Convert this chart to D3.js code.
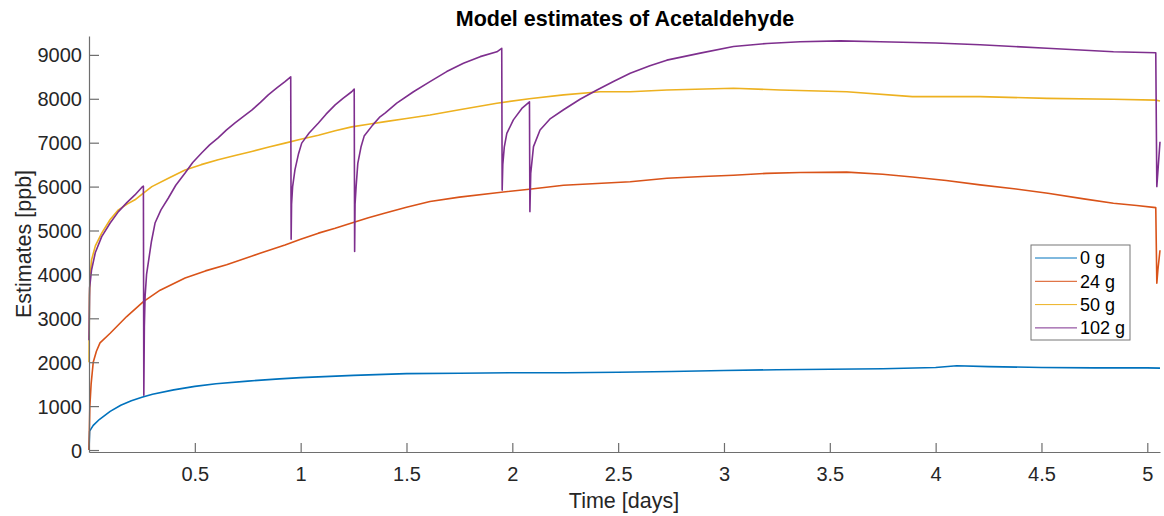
<!DOCTYPE html>
<html>
<head>
<meta charset="utf-8">
<script src="https://cdn.jsdelivr.net/npm/d3@7"></script>
<style>
  body { margin: 0; background: #fff; }
  text { font-family: "Liberation Sans", Arial, sans-serif; }
</style>
</head>
<body>
<svg width="1164" height="516"></svg>
<script>
"use strict";

// [days, ppb]
const series0g = [[0,0],[0.003,430],[0.02,560],[0.05,700],[0.1,880],[0.15,1020],[0.2,1120],[0.25,1200],[0.3,1270],[0.4,1370],[0.5,1450],[0.6,1510],[0.75,1570],[0.9,1620],[1,1650],[1.25,1700],[1.5,1740],[1.75,1750],[2,1760],[2.25,1760],[2.5,1770],[2.75,1790],[3,1810],[3.25,1830],[3.5,1840],[3.75,1850],[4,1880],[4.1,1920],[4.25,1900],[4.5,1880],[4.75,1870],[5,1870],[5.06,1865]];

const series24g = [[0,0],[0.004,1000],[0.01,1500],[0.02,2000],[0.035,2250],[0.052,2440],[0.1,2660],[0.178,3040],[0.257,3380],[0.336,3640],[0.454,3920],[0.55,4080],[0.65,4220],[0.808,4480],[0.926,4670],[1,4800],[1.084,4940],[1.163,5050],[1.241,5170],[1.32,5290],[1.4,5400],[1.5,5530],[1.611,5660],[1.75,5760],[1.927,5860],[2.08,5940],[2.242,6030],[2.4,6070],[2.557,6110],[2.73,6190],[2.9,6230],[3.045,6260],[3.2,6300],[3.36,6320],[3.58,6330],[3.75,6280],[3.89,6220],[4.05,6140],[4.21,6040],[4.37,5950],[4.53,5850],[4.7,5720],[4.84,5620],[4.95,5570],[5.04,5520],[5.045,3800],[5.05,4100],[5.06,4550]];

const series50g = [[0,2000],[0.002,3500],[0.006,4000],[0.012,4330],[0.03,4650],[0.06,4940],[0.1,5250],[0.139,5470],[0.18,5600],[0.217,5700],[0.257,5850],[0.297,6000],[0.375,6190],[0.454,6380],[0.53,6500],[0.61,6610],[0.69,6710],[0.769,6800],[0.85,6900],[0.926,6990],[1,7080],[1.084,7170],[1.163,7270],[1.241,7360],[1.32,7420],[1.4,7480],[1.5,7550],[1.611,7630],[1.75,7750],[1.927,7900],[2.08,8000],[2.242,8090],[2.415,8160],[2.557,8160],[2.73,8200],[3.045,8240],[3.266,8200],[3.58,8160],[3.89,8050],[4.21,8050],[4.526,8010],[4.84,7990],[5.04,7970],[5.06,7950]];

const series102g = [[0,2500],[0.003,3700],[0.012,4100],[0.03,4500],[0.06,4860],[0.1,5170],[0.139,5430],[0.18,5640],[0.217,5810],[0.249,5980],[0.257,6010],[0.259,1250],[0.2615,2800],[0.265,3500],[0.272,4000],[0.28,4260],[0.295,4750],[0.312,5170],[0.34,5470],[0.375,5740],[0.41,6030],[0.454,6310],[0.49,6550],[0.533,6770],[0.57,6950],[0.61,7110],[0.65,7290],[0.69,7450],[0.73,7600],[0.769,7740],[0.81,7920],[0.847,8090],[0.886,8240],[0.926,8390],[0.953,8500],[0.955,4800],[0.957,5600],[0.962,6000],[0.973,6380],[0.99,6750],[1.005,6990],[1.04,7220],[1.084,7450],[1.12,7650],[1.163,7860],[1.2,8010],[1.241,8160],[1.253,8220],[1.255,4520],[1.257,5600],[1.262,6000],[1.27,6530],[1.285,6900],[1.3,7150],[1.34,7400],[1.375,7590],[1.4,7680],[1.454,7900],[1.533,8160],[1.611,8390],[1.69,8620],[1.769,8810],[1.848,8960],[1.927,9070],[1.95,9150],[1.952,5920],[1.955,6500],[1.962,6900],[1.974,7210],[2.005,7520],[2.045,7780],[2.081,7930],[2.083,5430],[2.087,6300],[2.1,6910],[2.131,7290],[2.18,7550],[2.242,7750],[2.32,7990],[2.4,8200],[2.48,8400],[2.557,8580],[2.65,8750],[2.73,8880],[2.888,9040],[3.045,9190],[3.203,9260],[3.36,9300],[3.55,9320],[3.738,9300],[4,9270],[4.21,9230],[4.526,9150],[4.84,9070],[5.04,9050],[5.045,6000],[5.06,7020]];

const seriesNames = ["0 g", "24 g", "50 g", "102 g"];
const seriesColors = ["#0072BD", "#D95319", "#EDB120", "#7E2F8E"];
const xTicks = [0.5, 1, 1.5, 2, 2.5, 3, 3.5, 4, 4.5, 5];
const yTicks = [0, 1000, 2000, 3000, 4000, 5000, 6000, 7000, 8000, 9000];

const allSeries = [series0g, series24g, series50g, series102g];

const plotLeft = 89, plotRight = 1160, plotTop = 36, plotBottom = 452;
const axisColor = "#6e6e6e";

const svg = d3.select("svg");

const xScale = d3.scaleLinear().domain([0, 5.06]).range([plotLeft, plotRight]);
const yScale = d3.scaleLinear().domain([-45, 9430]).range([plotBottom, plotTop]);

// lines
const line = d3.line().x(d => xScale(d[0])).y(d => yScale(d[1]));
svg.append("g")
  .selectAll("path")
  .data(allSeries)
  .enter()
  .append("path")
  .attr("d", line)
  .attr("fill", "none")
  .attr("stroke", (d, i) => seriesColors[i])
  .attr("stroke-width", 1.6)
  .attr("stroke-linejoin", "round");

// axes (ticks point inward like matlab)
const xAxis = svg.append("g")
  .attr("transform", `translate(0, ${plotBottom})`)
  .call(d3.axisBottom(xScale).tickValues(xTicks).tickSizeInner(-9).tickSizeOuter(0).tickPadding(15).tickFormat(d3.format("")));
const yAxis = svg.append("g")
  .attr("transform", `translate(${plotLeft}, 0)`)
  .call(d3.axisLeft(yScale).tickValues(yTicks).tickSizeInner(-10).tickSizeOuter(0).tickPadding(7).tickFormat(d3.format("")));

[xAxis, yAxis].forEach(a => {
  a.select(".domain").attr("stroke", axisColor).attr("stroke-width", 1.2);
  a.selectAll(".tick line").attr("stroke", axisColor).attr("stroke-width", 1.2);
  a.selectAll(".tick text")
    .attr("fill", "#262626")
    .style("font-size", "20px")
    .style("font-family", "'Liberation Sans', Arial, sans-serif");
});
yAxis.selectAll(".tick text").attr("dy", "0.35em");

// titles
svg.append("text")
  .attr("x", 625).attr("y", 26)
  .attr("text-anchor", "middle")
  .style("font-size", "21.5px").style("font-weight", "bold")
  .attr("fill", "#000")
  .text("Model estimates of Acetaldehyde");

svg.append("text")
  .attr("x", 624).attr("y", 508)
  .attr("text-anchor", "middle")
  .style("font-size", "21.5px")
  .attr("fill", "#262626")
  .text("Time [days]");

svg.append("text")
  .attr("transform", `translate(31, ${(plotTop + plotBottom) / 2}) rotate(-90)`)
  .attr("text-anchor", "middle")
  .style("font-size", "21.5px")
  .attr("fill", "#262626")
  .text("Estimates [ppb]");

// legend
const legend = svg.append("g");
legend.append("rect")
  .attr("x", 1031).attr("y", 245)
  .attr("width", 99).attr("height", 95)
  .attr("fill", "#fff")
  .attr("stroke", "#777").attr("stroke-width", 1);

const entries = legend.selectAll(".entry")
  .data(seriesNames)
  .enter()
  .append("g")
  .attr("transform", (d, i) => `translate(0, ${258 + i * 23.3})`);
entries.append("line")
  .attr("x1", 1035).attr("x2", 1077)
  .attr("stroke", (d, i) => seriesColors[i])
  .attr("stroke-width", 1);
entries.append("text")
  .attr("x", 1080).attr("dy", "0.35em")
  .style("font-size", "18px")
  .attr("fill", "#000")
  .text(d => d);
</script>
</body>
</html>
